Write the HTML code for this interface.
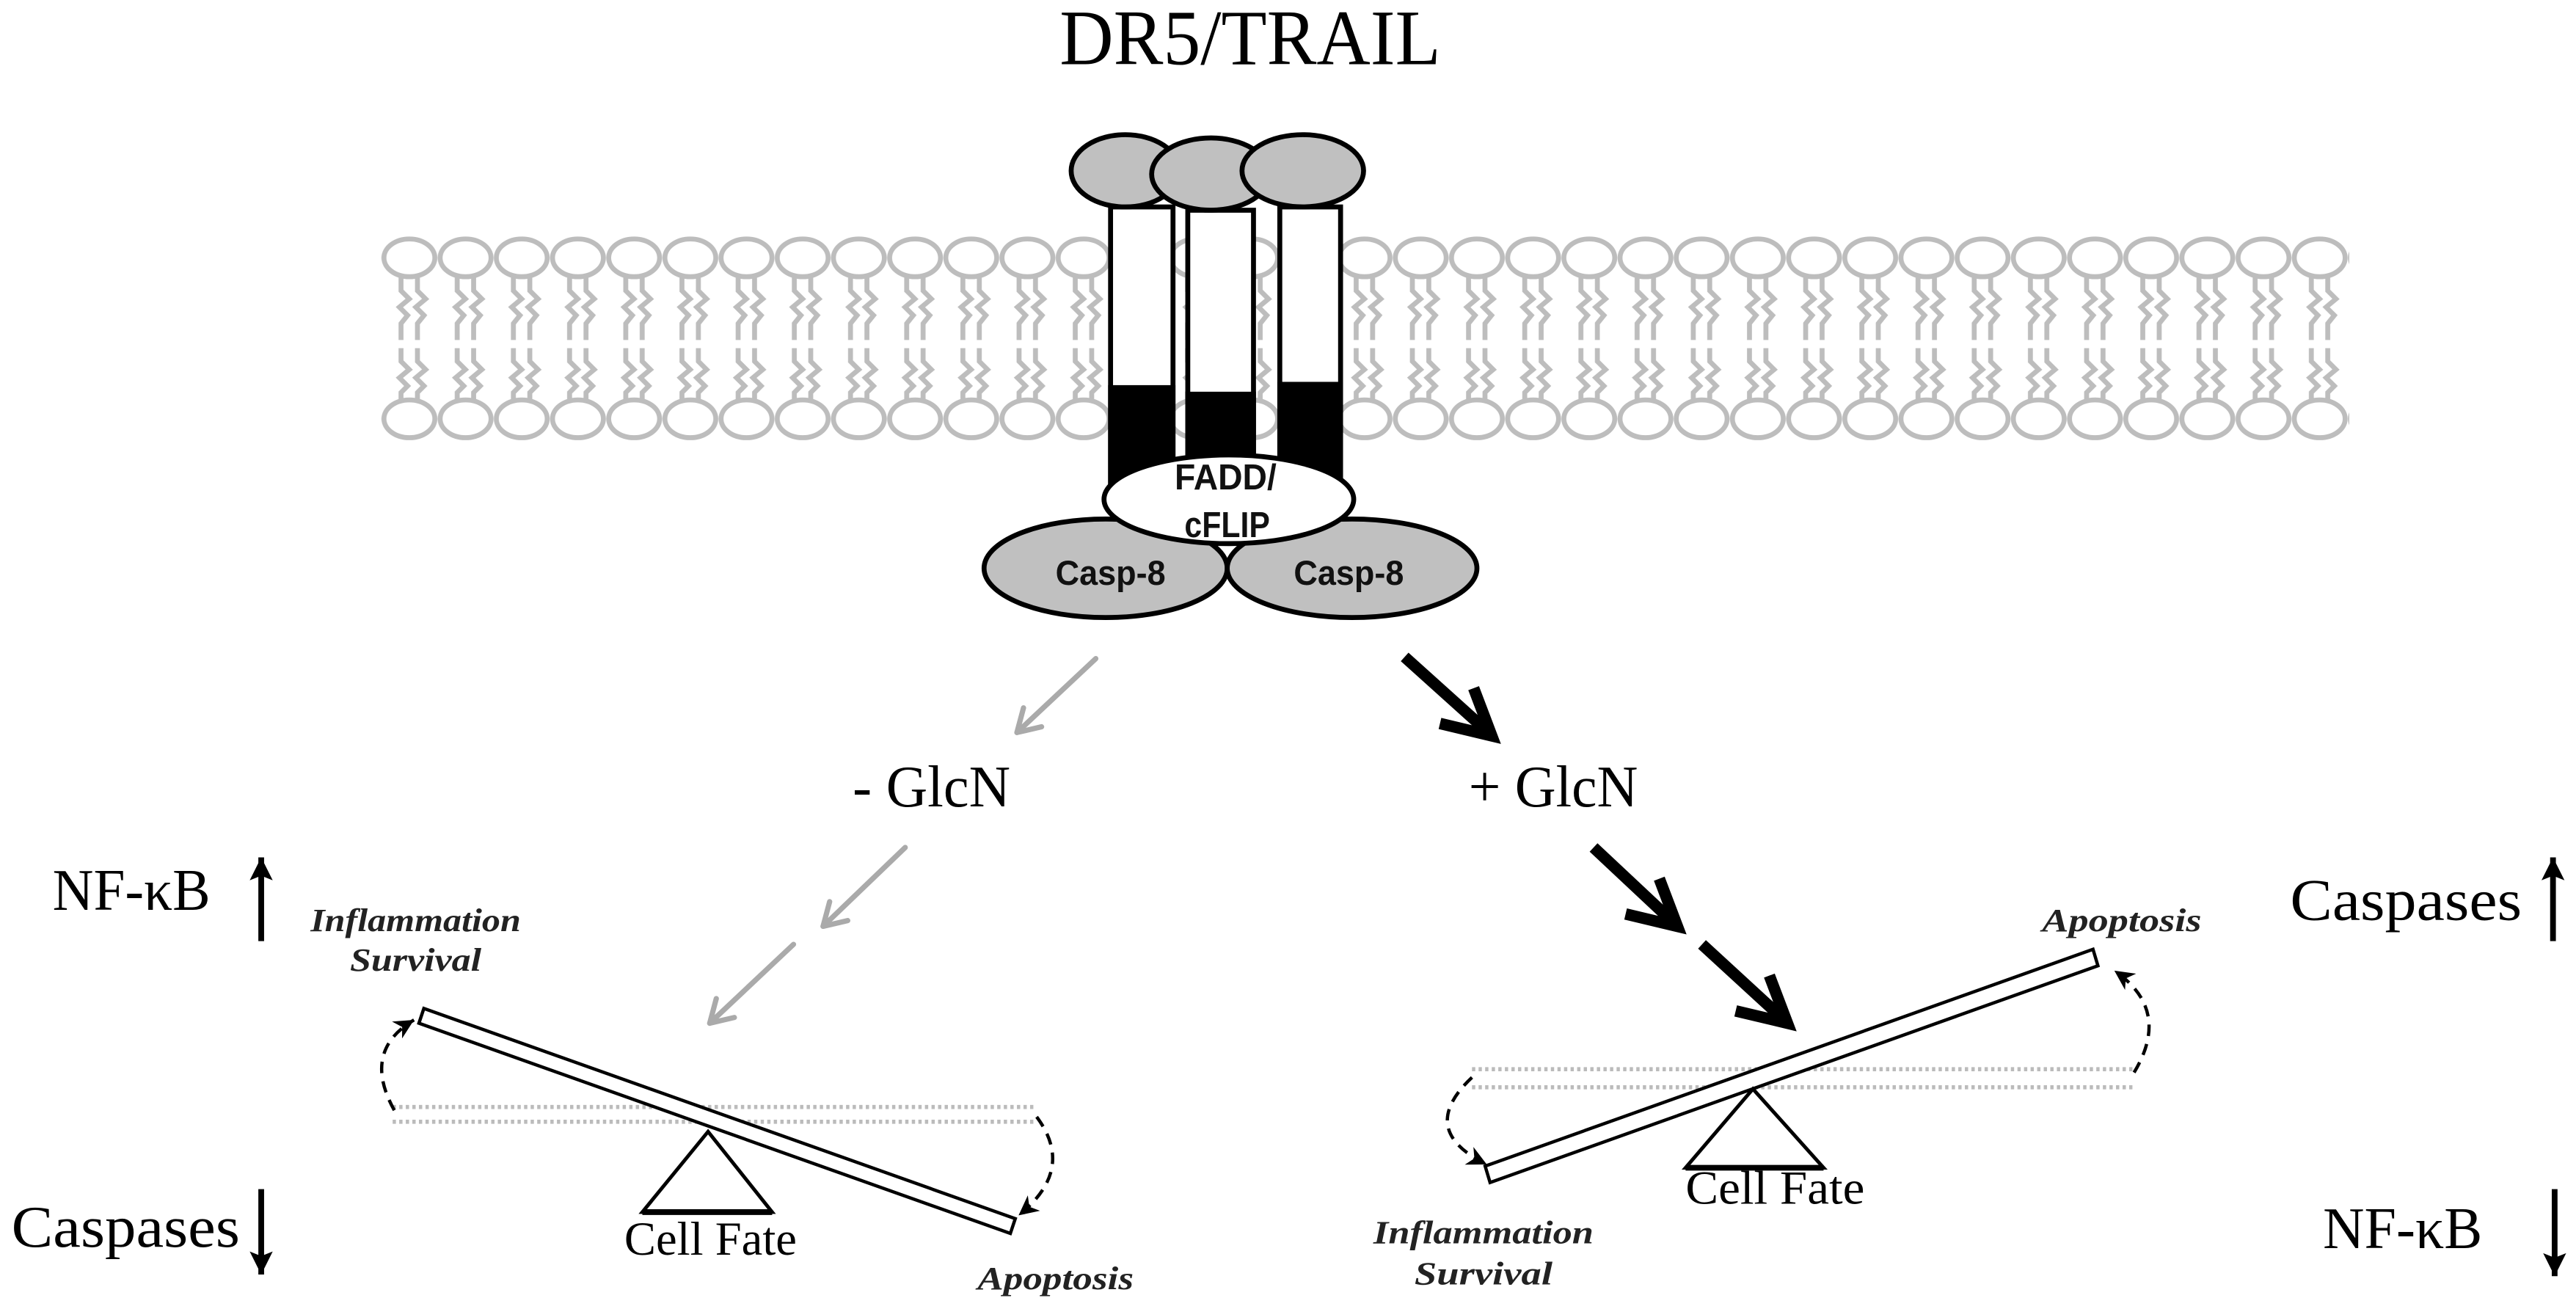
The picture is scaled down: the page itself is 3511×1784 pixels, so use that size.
<!DOCTYPE html>
<html><head><meta charset="utf-8"><style>
html,body{margin:0;padding:0;background:#fff}
svg{display:block}
.serif{font-family:"Liberation Serif",serif;fill:#000}
.it{font-family:"Liberation Serif",serif;font-style:italic;font-weight:bold;fill:#222}
.bs{font-family:"Liberation Sans",sans-serif;font-weight:bold;fill:#111}
</style></head><body>
<svg width="3511" height="1784" viewBox="0 0 1568 797" preserveAspectRatio="none" xmlns="http://www.w3.org/2000/svg">
<defs>
<pattern id="lip" patternUnits="userSpaceOnUse" x="232.1" y="0" width="34.2" height="797">
<ellipse cx="17.1" cy="157" rx="15.5" ry="11.5" fill="#fff" stroke="#bdbdbd" stroke-width="3"/>
<ellipse cx="17.1" cy="255" rx="15.5" ry="11.5" fill="#fff" stroke="#bdbdbd" stroke-width="3"/>
<g fill="none" stroke="#bdbdbd" stroke-width="3">
<path d="M12,169 l0,8 l5,5 l-6,5 l5,5 l-4,5 l0,10"/>
<path d="M22,169 l0,8 l5,5 l-6,5 l5,5 l-4,5 l0,10"/>
<path d="M12,212 l0,8 l5,5 l-6,5 l5,5 l-4,4 l0,5"/>
<path d="M22,212 l0,8 l5,5 l-6,5 l5,5 l-4,4 l0,5"/>
</g>
</pattern>
<marker id="mh" markerUnits="userSpaceOnUse" markerWidth="12" markerHeight="12" refX="10" refY="5" orient="auto" viewBox="0 0 10 10">
<path d="M0,0 L10,5 L0,10 L3,5 Z" fill="#000"/>
</marker>
<marker id="vh" markerUnits="userSpaceOnUse" markerWidth="14" markerHeight="16" refX="10" refY="5" orient="auto" viewBox="0 0 10 10">
<path d="M0,0 L10,5 L0,10 L2,5 Z" fill="#000"/>
</marker>
</defs>

<text class="serif" x="645" y="39" font-size="48" textLength="232" lengthAdjust="spacingAndGlyphs">DR5/TRAIL</text>

<rect x="232" y="140" width="1198" height="130" fill="url(#lip)"/>

<g stroke="#000" stroke-width="3">
<rect x="676" y="126" width="38" height="175" fill="#fff"/>
<rect x="676" y="236" width="38" height="65" fill="#000"/>
<rect x="723" y="128" width="40" height="173" fill="#fff"/>
<rect x="723" y="240" width="40" height="61" fill="#000"/>
<rect x="779" y="126" width="37" height="175" fill="#fff"/>
<rect x="779" y="234" width="37" height="67" fill="#000"/>
</g>
<g stroke="#000" stroke-width="3" fill="#c0c0c0">
<ellipse cx="685" cy="104" rx="33" ry="22"/>
<ellipse cx="737" cy="106" rx="36" ry="22"/>
<ellipse cx="793" cy="104" rx="37" ry="22"/>
<ellipse cx="673" cy="346" rx="74" ry="30"/>
<ellipse cx="823" cy="346" rx="76" ry="30"/>
</g>
<ellipse cx="748" cy="304" rx="76" ry="27" fill="#fff" stroke="#000" stroke-width="3"/>
<text class="bs" x="746" y="298" font-size="22" text-anchor="middle" textLength="62" lengthAdjust="spacingAndGlyphs">FADD/</text>
<text class="bs" x="747" y="327" font-size="22" text-anchor="middle" textLength="52" lengthAdjust="spacingAndGlyphs">cFLIP</text>
<text class="bs" x="676" y="356" font-size="21" text-anchor="middle" textLength="67" lengthAdjust="spacingAndGlyphs">Casp-8</text>
<text class="bs" x="821" y="356" font-size="21" text-anchor="middle" textLength="67" lengthAdjust="spacingAndGlyphs">Casp-8</text>

<g stroke="#aaa" stroke-width="3.2" fill="none" stroke-linecap="round" stroke-linejoin="round">
<line x1="667" y1="401" x2="619" y2="446"/><polyline points="623,431 619,446 634,442.5"/>
<line x1="551" y1="516" x2="501" y2="564"/><polyline points="505,549 501,564 516,560.5"/>
<line x1="483" y1="575" x2="432" y2="623"/><polyline points="436,608 432,623 447,619.5"/>
</g>
<g stroke="#000" stroke-width="7" fill="none" stroke-linecap="butt" stroke-linejoin="miter">
<line x1="855" y1="400" x2="905" y2="445"/><polyline points="897,419 908,448 876.5,440.5"/>
<line x1="970" y1="516" x2="1018" y2="561"/><polyline points="1010,535 1021,564 989.5,556.5"/>
<line x1="1036" y1="575" x2="1085" y2="620"/><polyline points="1077,594 1088,623 1056.5,615.5"/>
</g>

<text class="serif" x="519" y="491" font-size="36" textLength="96" lengthAdjust="spacingAndGlyphs">- GlcN</text>
<text class="serif" x="894" y="491" font-size="36" textLength="103" lengthAdjust="spacingAndGlyphs">+ GlcN</text>

<text class="serif" x="32" y="554" font-size="36" textLength="96" lengthAdjust="spacingAndGlyphs">NF-κB</text>
<text class="serif" x="7" y="759" font-size="36" textLength="139" lengthAdjust="spacingAndGlyphs">Caspases</text>
<text class="serif" x="1394" y="560" font-size="36" textLength="141" lengthAdjust="spacingAndGlyphs">Caspases</text>
<text class="serif" x="1414" y="760" font-size="36" textLength="97" lengthAdjust="spacingAndGlyphs">NF-κB</text>
<g stroke="#000" stroke-width="3.5">
<line x1="159" y1="573" x2="159" y2="522" marker-end="url(#vh)"/>
<line x1="159" y1="724" x2="159" y2="776" marker-end="url(#vh)"/>
<line x1="1554" y1="573" x2="1554" y2="522" marker-end="url(#vh)"/>
<line x1="1555" y1="724" x2="1555" y2="777" marker-end="url(#vh)"/>
</g>

<g stroke="#bbb" stroke-width="2.5" stroke-dasharray="2,2" fill="none">
<line x1="239" y1="674" x2="631" y2="674"/>
<line x1="239" y1="683" x2="631" y2="683"/>
</g>
<polygon points="258,614 618,742 615,751 255,623" fill="#fff" stroke="#000" stroke-width="2"/>
<polygon points="431,689 391,738 470,738" fill="#fff" stroke="#000" stroke-width="2.2"/>
<line x1="391" y1="738" x2="470" y2="738" stroke="#000" stroke-width="3.5"/>
<g stroke="#000" stroke-width="2" stroke-dasharray="7,5" fill="none">
<path d="M240,676 Q220,640 252,621" marker-end="url(#mh)"/>
<path d="M631,680 Q655,712 620,740" marker-end="url(#mh)"/>
</g>
<text class="serif" x="380" y="764" font-size="29" textLength="105" lengthAdjust="spacingAndGlyphs">Cell Fate</text>
<text class="it" x="253" y="567" font-size="20" text-anchor="middle" textLength="128" lengthAdjust="spacingAndGlyphs">Inflammation</text>
<text class="it" x="253" y="591" font-size="20" text-anchor="middle" textLength="80" lengthAdjust="spacingAndGlyphs">Survival</text>
<text class="it" x="595" y="785" font-size="20" textLength="95" lengthAdjust="spacingAndGlyphs">Apoptosis</text>

<g stroke="#bbb" stroke-width="2.5" stroke-dasharray="2,2" fill="none">
<line x1="896" y1="651" x2="1299" y2="651"/>
<line x1="896" y1="662" x2="1299" y2="662"/>
</g>
<polygon points="904,710 1274,578 1277,588 907,720" fill="#fff" stroke="#000" stroke-width="2"/>
<polygon points="1067,663 1026,711 1110,711" fill="#fff" stroke="#000" stroke-width="2.2"/>
<line x1="1026" y1="711" x2="1110" y2="711" stroke="#000" stroke-width="3.5"/>
<g stroke="#000" stroke-width="2" stroke-dasharray="7,5" fill="none">
<path d="M896,656 Q862,688 905,709" marker-end="url(#mh)"/>
<path d="M1299,653 Q1322,615 1287,591" marker-end="url(#mh)"/>
</g>
<text class="serif" x="1026" y="733" font-size="29" textLength="109" lengthAdjust="spacingAndGlyphs">Cell Fate</text>
<text class="it" x="903" y="757" font-size="20" text-anchor="middle" textLength="134" lengthAdjust="spacingAndGlyphs">Inflammation</text>
<text class="it" x="903" y="782" font-size="20" text-anchor="middle" textLength="84" lengthAdjust="spacingAndGlyphs">Survival</text>
<text class="it" x="1243" y="567" font-size="20" textLength="97" lengthAdjust="spacingAndGlyphs">Apoptosis</text>
</svg>
</body></html>
